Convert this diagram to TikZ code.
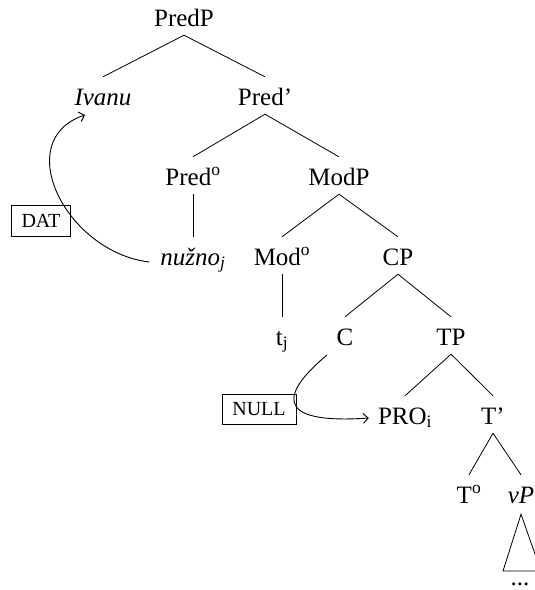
\documentclass[tikz,border=0pt]{standalone}
\usepackage{fontspec}
\setmainfont{Liberation Serif}
\usetikzlibrary{arrows.meta}
\tikzset{
  lab/.style={anchor=base, inner xsep=0pt, inner ysep=3pt, text height=25pt, text depth=6pt, font=\fontsize{25}{30}\selectfont},
  casebox/.style={draw, line width=0.8pt, inner sep=0pt, font=\fontsize{20}{23}\selectfont},
  edge/.style={line width=0.8pt},
  mv/.style={line width=0.9pt, -{Straight Barb[length=5pt,width=10pt]}}
}
\begin{document}
\begin{tikzpicture}[x=1pt,y=-1pt]
\useasboundingbox (0,0) rectangle (535,590);
% nodes (placed by baseline)
\node[lab] (PredP) at (184,26) {PredP};
\node[lab] (Ivanu) at (103,105) {\textit{Ivanu}};
\node[lab] (Predb) at (265,105) {Pred’};
\node[lab] (Pred0) at (193,185) {Pred\textsuperscript{o}};
\node[lab] (ModP) at (339,185) {ModP};
\node[lab] (nuzno) at (193,265) {\textit{nužno}\textsubscript{\textit{j}}};
\node[lab] (Mod0) at (282,265) {Mod\textsuperscript{o}};
\node[lab] (CP) at (398,265) {CP};
\node[lab] (tj) at (282,345) {t\textsubscript{j}};
\node[lab] (C) at (345,345) {C};
\node[lab] (TP) at (451,345) {TP};
\node[lab] (PRO) at (405,424) {PRO\textsubscript{i}};
\node[lab] (Tb) at (493,424) {T’};
\node[lab] (T0) at (469,503) {T\textsuperscript{o}};
\node[lab] (vP) at (521,503) {\textit{vP}};
\node[anchor=base, inner sep=0pt, font=\fontsize{25}{30}\selectfont] (dots) at (520,585) {...};
\node[casebox, minimum width=59pt, minimum height=31pt] (DAT) at (41,221) {DAT};
\node[casebox, minimum width=74pt, minimum height=30pt] (NULL) at (259,409) {NULL};
% tree edges
\draw[edge] (PredP.south) -- (Ivanu.north);
\draw[edge] (PredP.south) -- (Predb.north);
\draw[edge] (Predb.south) -- (Pred0.north);
\draw[edge] (Predb.south) -- (ModP.north);
\draw[edge] (Pred0.south) -- (nuzno.north);
\draw[edge] (ModP.south) -- (Mod0.north);
\draw[edge] (ModP.south) -- (CP.north);
\draw[edge] (Mod0.south) -- (tj.north);
\draw[edge] (CP.south) -- (C.north);
\draw[edge] (CP.south) -- (TP.north);
\draw[edge] (TP.south) -- (PRO.north);
\draw[edge] (TP.south) -- (Tb.north);
\draw[edge] (Tb.south) -- (T0.north);
\draw[edge] (Tb.south) -- (vP.north);
% triangle under vP
\coordinate (triL) at (503,571);
\coordinate (triR) at (541,571);
\draw[edge] (triL) -- ([yshift=-2pt]vP.south) -- (triR) -- cycle;
% movement arrows
\coordinate (nuzS) at ([xshift=-11pt,yshift=3pt]nuzno.base west);
\coordinate (ivE) at ([xshift=-18pt,yshift=-10pt]Ivanu.base);
\draw[mv] (nuzS) .. controls (66,252) and (10,140) .. (ivE);
\coordinate (cS) at ([xshift=-18pt,yshift=-10pt]C.base);
\coordinate (proW) at ([xshift=-9pt,yshift=6pt]PRO.base west);
\draw[mv] (cS) .. controls (285,390) and (268,425) .. (proW);
\end{tikzpicture}
\end{document}
